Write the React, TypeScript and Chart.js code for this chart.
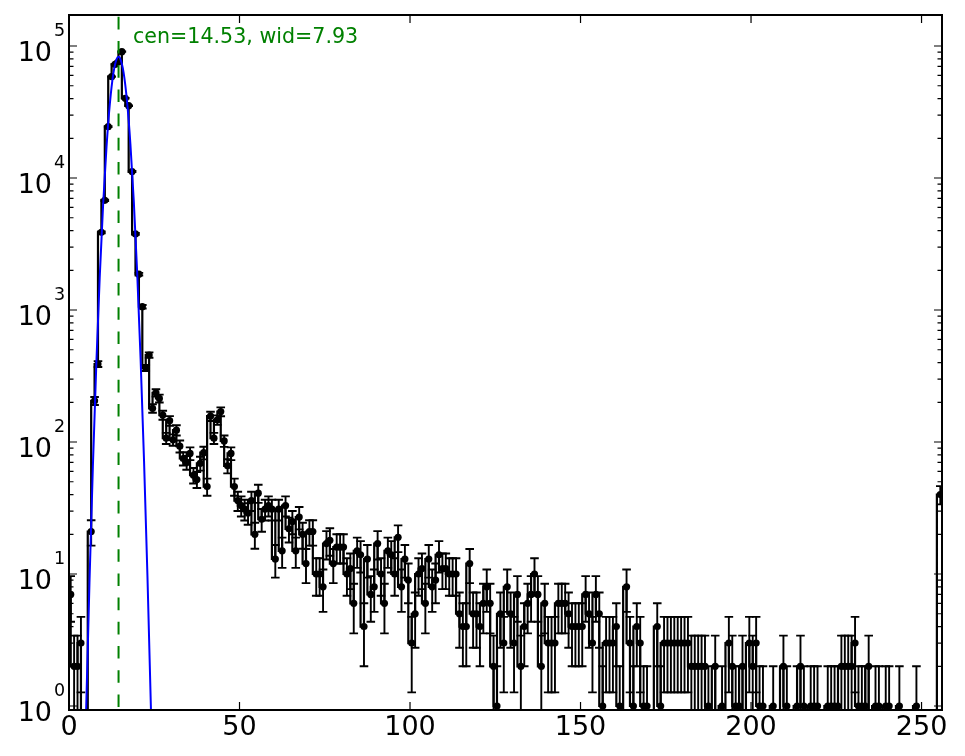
import React, { useEffect, useRef } from "react";
import { Chart, registerables } from "chart.js";

Chart.register(...registerables);

// Histogram counts per bin (bins 0..255, centred at i + 0.5)
const counts: number[] = [
  7, 2, 2, 3, 0, 0, 21, 205, 390, 3880, 6780, 24500, 58600, 72600, 76000, 90600,
  40200, 35300, 11200, 3770, 1870, 1060, 364, 456, 180, 236, 214, 160, 107, 145, 104, 123,
  93, 75, 70, 82, 56, 52, 69, 83, 46, 157, 107, 147, 170, 102, 66, 82,
  46, 36, 33, 31, 29, 36, 20, 41, 26, 31, 33, 31, 13, 31, 15, 33,
  22, 25, 15, 27, 20, 12, 21, 21, 10, 10, 8, 17, 18, 12, 16, 16,
  16, 10, 11, 6, 15, 14, 4, 13, 7, 8, 17, 10, 6, 15, 14, 10,
  19, 8, 13, 9, 3, 5, 10, 11, 6, 13, 8, 9, 14, 11, 11, 10,
  10, 10, 5, 4, 4, 12, 5, 5, 4, 6, 8, 6, 2, 1, 5, 3,
  8, 5, 3, 7, 2, 4, 6, 7, 10, 7, 2, 6, 3, 3, 3, 6,
  6, 6, 5, 4, 4, 4, 4, 7, 5, 3, 7, 5, 1, 3, 3, 3,
  4, 1, 0, 8, 3, 1, 4, 3, 1, 1, 0, 0, 4, 1, 3, 3,
  3, 3, 3, 3, 3, 3, 2, 2, 2, 2, 2, 1, 0, 2, 0, 1,
  0, 3, 2, 1, 1, 2, 0, 3, 2, 3, 1, 1, 0, 0, 1, 0,
  0, 2, 1, 0, 0, 1, 2, 1, 0, 1, 1, 1, 0, 0, 1, 1,
  1, 1, 2, 2, 2, 2, 3, 1, 1, 1, 2, 0, 1, 1, 0, 1,
  1, 0, 0, 1, 0, 0, 0, 0, 1, 0, 0, 0, 0, 0, 0, 40,
];
const binCenters: number[] = counts.map((_, i) => i + 0.5);

const fitX: number[] = [4, 5, 6, 7, 8, 9, 10, 11, 12, 13, 14, 14.5, 15, 16, 17, 18, 19, 20, 21, 22, 23, 24, 25];
const fitY: number[] = [
  0.0697, 0.875, 8.55, 64.9, 382, 1750, 6240, 17200, 37000, 61800, 80100, 83000,
  80700, 63200, 38500, 18200, 6670, 1900, 422, 72.6, 9.73, 1.01, 0.0815,
];
const fitCenter = 14.53;
const fitWidth = 7.93;

const xTickValues: number[] = [0, 50, 100, 150, 200, 250];
const yTickExponents: number[] = [0, 1, 2, 3, 4, 5];

const X_MIN = 0;
const X_MAX = 256;
const Y_MIN = 0.933;
const Y_MAX = 1.718e5;

const FONT = '"DejaVu Sans", "Liberation Sans", sans-serif';

const errorBarPlugin = {
  id: "errorBars",
  beforeDatasetsDraw(chart: any) {
    const { ctx, chartArea: a, scales } = chart;
    const xs = scales.x;
    const ys = scales.y;
    const cap = 4.3;
    ctx.save();
    ctx.beginPath();
    ctx.rect(a.left, a.top, a.right - a.left, a.bottom - a.top);
    ctx.clip();
    ctx.strokeStyle = "#000";
    ctx.lineWidth = 1.9;
    counts.forEach((c, i) => {
      if (c <= 0) return;
      const e = Math.sqrt(c);
      const px = xs.getPixelForValue(binCenters[i]);
      const top = ys.getPixelForValue(c + e);
      const low = c - e;
      const bot = low > 0 ? ys.getPixelForValue(low) : a.bottom + 20;
      ctx.beginPath();
      ctx.moveTo(px, top);
      ctx.lineTo(px, bot);
      ctx.moveTo(px - cap, top);
      ctx.lineTo(px + cap, top);
      if (low > 0) {
        ctx.moveTo(px - cap, bot);
        ctx.lineTo(px + cap, bot);
      }
      ctx.stroke();
    });
    ctx.restore();
  },
};

const overlayPlugin = {
  id: "overlay",
  afterDatasetsDraw(chart: any) {
    const { ctx, chartArea: a, scales } = chart;
    const xs = scales.x;
    const cx = xs.getPixelForValue(fitCenter);
    ctx.save();
    ctx.beginPath();
    ctx.rect(a.left, a.top, a.right - a.left, a.bottom - a.top);
    ctx.clip();
    ctx.strokeStyle = "rgb(0,128,0)";
    ctx.lineWidth = 2;
    ctx.setLineDash([12.6, 11.6]);
    ctx.lineDashOffset = 21.2;
    ctx.beginPath();
    ctx.moveTo(cx, a.bottom);
    ctx.lineTo(cx, a.top);
    ctx.stroke();
    ctx.restore();

    ctx.save();
    ctx.fillStyle = "rgb(0,128,0)";
    ctx.font = `20.6px ${FONT}`;
    ctx.textAlign = "left";
    ctx.textBaseline = "alphabetic";
    ctx.fillText(`cen=${fitCenter.toFixed(2)}, wid=${fitWidth.toFixed(2)}`, cx + 14.5, a.top + 28.3);
    ctx.restore();
  },
  afterDraw(chart: any) {
    const { ctx, chartArea: a, scales } = chart;
    const xs = scales.x;
    const ys = scales.y;
    ctx.save();
    // ticks
    ctx.strokeStyle = "#000";
    ctx.lineWidth = 1.2;
    const major = 8;
    const minor = 4.5;
    ctx.beginPath();
    xTickValues.forEach((v) => {
      const px = xs.getPixelForValue(v);
      ctx.moveTo(px, a.bottom);
      ctx.lineTo(px, a.bottom - major);
      ctx.moveTo(px, a.top);
      ctx.lineTo(px, a.top + major);
    });
    yTickExponents.forEach((k) => {
      const py = ys.getPixelForValue(Math.pow(10, k));
      ctx.moveTo(a.left, py);
      ctx.lineTo(a.left + major, py);
      ctx.moveTo(a.right, py);
      ctx.lineTo(a.right - major, py);
      for (let m = 2; m <= 9; m++) {
        const v = m * Math.pow(10, k);
        if (v < Y_MIN || v > Y_MAX) continue;
        const pm = ys.getPixelForValue(v);
        ctx.moveTo(a.left, pm);
        ctx.lineTo(a.left + minor, pm);
        ctx.moveTo(a.right, pm);
        ctx.lineTo(a.right - minor, pm);
      }
    });
    ctx.stroke();
    // frame
    ctx.lineWidth = 2;
    ctx.strokeRect(a.left, a.top, a.right - a.left, a.bottom - a.top);

    // labels
    ctx.fillStyle = "#000";
    ctx.font = `27px ${FONT}`;
    ctx.textAlign = "center";
    ctx.textBaseline = "alphabetic";
    xTickValues.forEach((v) => {
      ctx.fillText(String(v), xs.getPixelForValue(v), a.bottom + 25);
    });
    yTickExponents.forEach((k) => {
      const py = ys.getPixelForValue(Math.pow(10, k));
      ctx.font = `27px ${FONT}`;
      ctx.textAlign = "right";
      ctx.fillText("10", a.left - 17, py + 15);
      ctx.font = `17.5px ${FONT}`;
      ctx.textAlign = "left";
      ctx.fillText(String(k), a.left - 15, py - 10.5);
    });
    ctx.restore();
  },
};

export default function App() {
  const canvasRef = useRef<HTMLCanvasElement | null>(null);

  useEffect(() => {
    const canvas = canvasRef.current;
    if (!canvas) return;
    const chart = new Chart(canvas, {
      type: "line",
      data: {
        datasets: [
          {
            label: "fit",
            data: fitX.map((x, i) => ({ x, y: fitY[i] })),
            borderColor: "#0000ff",
            borderWidth: 2,
            pointRadius: 0,
            cubicInterpolationMode: "monotone",
            fill: false,
            order: 0,
            clip: 0,
          } as any,
          {
            label: "counts",
            data: counts.map((c, i) => ({ x: binCenters[i], y: c > 0 ? c : 1e-3 })),
            borderColor: "#000000",
            borderWidth: 2.2,
            stepped: "after",
            pointRadius: 3.6,
            pointBackgroundColor: "#000000",
            pointBorderWidth: 0,
            fill: false,
            order: 1,
            clip: 0,
          } as any,
        ],
      },
      options: {
        responsive: false,
        animation: false,
        events: [],
        layout: { padding: { left: 69, right: 23, top: 15, bottom: 46 } },
        scales: {
          x: { type: "linear", min: X_MIN, max: X_MAX, display: false },
          y: { type: "logarithmic", min: Y_MIN, max: Y_MAX, display: false },
        },
        plugins: {
          legend: { display: false },
          tooltip: { enabled: false },
        },
      },
      plugins: [errorBarPlugin, overlayPlugin],
    });
    return () => chart.destroy();
  }, []);

  return (
    <div style={{ position: "absolute", left: 0, top: 0, width: 965, height: 756, background: "#fff" }}>
      <canvas ref={canvasRef} width={965} height={756} style={{ display: "block" }} />
    </div>
  );
}
